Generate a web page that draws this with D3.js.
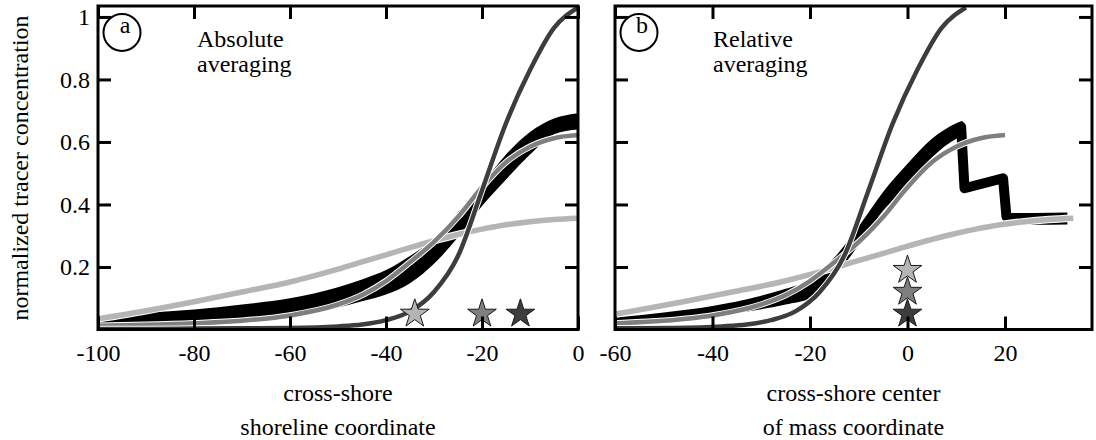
<!DOCTYPE html>
<html>
<head>
<meta charset="utf-8">
<script src="https://cdn.jsdelivr.net/npm/d3@7"></script>
<style>
  body { margin: 0; background: #fff; }
  svg text { font-family: "Liberation Serif", "Times New Roman", serif; fill: #000; }
</style>
</head>
<body>
<svg id="chart" width="1096" height="440"></svg>
<script>
// Cross-shore positions of the profiles (shoreline coordinate, panel a)
const xShore = [-100, -90, -80, -70, -60, -50, -45, -40, -35, -30, -25, -20, -15, -10, -5, 0];
// Profiles drawn in panel a
const lightProfile  = [0.034, 0.06, 0.089, 0.12, 0.152, 0.193, 0.216, 0.239, 0.262, 0.284, 0.304, 0.321, 0.335, 0.345, 0.352, 0.356];
const mediumProfile = [0.012, 0.015, 0.02, 0.028, 0.045, 0.08, 0.11, 0.155, 0.215, 0.28, 0.36, 0.455, 0.535, 0.585, 0.612, 0.622];
const darkProfile   = [0.002, 0.002, 0.003, 0.004, 0.005, 0.01, 0.016, 0.03, 0.058, 0.12, 0.235, 0.445, 0.66, 0.83, 0.965, 1.03];
const blackLowA  = [0.02, 0.024, 0.028, 0.036, 0.045, 0.07, 0.09, 0.112, 0.148, 0.21, 0.295, 0.395, 0.48, 0.56, 0.625, 0.64];
const blackHighA = [0.045, 0.054, 0.064, 0.08, 0.1, 0.135, 0.16, 0.19, 0.235, 0.29, 0.375, 0.465, 0.56, 0.632, 0.675, 0.692];

// Centers of mass of the light, medium and dark profiles (stars)
const centerOfMass = [-34, -20, -12];
const starLevelA = [0.05, 0.05, 0.05];
const starLevelB = [0.19, 0.12, 0.05];

// Black profile in panel b (center of mass coordinate)
const xRelative  = [-60, -50, -40, -30, -25, -20, -15, -10, -5, 0, 5, 10, 11.3];
const blackLowB  = [0.02, 0.03, 0.045, 0.065, 0.08, 0.1, 0.17, 0.27, 0.38, 0.46, 0.55, 0.61, 0.62];
const blackHighB = [0.038, 0.054, 0.075, 0.108, 0.13, 0.16, 0.23, 0.33, 0.44, 0.53, 0.61, 0.66, 0.668];
const blackStepX = [11.0, 11.7, 19.6, 20.3];
const blackStepY = [0.649, 0.452, 0.484, 0.361];
const blackTailX = [20.3, 26, 32.8];
const blackTailLow  = [0.334, 0.335, 0.336];
const blackTailHigh = [0.372, 0.373, 0.374];

// Tick values
const yTicks = [0.2, 0.4, 0.6, 0.8, 1];
const xTicksA = [-100, -80, -60, -40, -20, 0];
const xTicksB = [-60, -40, -20, 0, 20];

const greys = ["#b5b5b5", "#7f7f7f", "#3d3d3d"];
const widths = [5.5, 4.5, 4.5];

const svg = d3.select("#chart");

// Panel geometry
const plotTop = 6, plotBottom = 329.5;
const panelA = { left: 98, right: 578 };
const panelB = { left: 615, right: 1092 };

const y = d3.scaleLinear().domain([0, 1.035]).range([plotBottom, plotTop]);
const xA = d3.scaleLinear().domain([-100, 0]).range([panelA.left, panelA.right]);
const xB = d3.scaleLinear().domain([-60, 37.85]).range([panelB.left, panelB.right]);

// clip paths
const defs = svg.append("defs");
[["clipA", panelA], ["clipB", panelB]].forEach(([id, p]) => {
    defs.append("clipPath").attr("id", id)
        .append("rect")
        .attr("x", p.left).attr("y", plotTop)
        .attr("width", p.right - p.left).attr("height", plotBottom - plotTop);
});

function drawLine(g, x, xs, ys, color, w) {
    const pts = xs.map((v, i) => [v, ys[i]]);
    const line = d3.line().x(d => x(d[0])).y(d => y(d[1])).curve(d3.curveMonotoneX);
    g.append("path").datum(pts)
        .attr("fill", "none").attr("stroke", "#fff").attr("stroke-width", w + 2)
        .attr("d", line);
    g.append("path").datum(pts)
        .attr("fill", "none").attr("stroke", color).attr("stroke-width", w)
        .attr("d", line);
}

function drawBand(g, x, xs, lo, hi) {
    const pts = xs.map((v, i) => [v, lo[i], hi[i]]);
    const area = d3.area().x(d => x(d[0])).y0(d => y(d[1])).y1(d => y(d[2])).curve(d3.curveMonotoneX);
    g.append("path").datum(pts).attr("fill", "#000").attr("d", area);
}

function drawStars(g, xs, ys) {
    const star = d3.symbol().type(d3.symbolStar).size(255);
    g.selectAll(null).data(xs).enter().append("path")
        .attr("transform", (d, i) => `translate(${d},${ys[i]})`)
        .attr("d", star)
        .attr("fill", (d, i) => greys[i])
        .attr("stroke", "#1a1a1a")
        .attr("stroke-width", 1);
}

// ---- Panel a: absolute averaging
const gA = svg.append("g").attr("clip-path", "url(#clipA)");
drawBand(gA, xA, xShore, blackLowA, blackHighA);
drawLine(gA, xA, xShore, lightProfile, greys[0], widths[0]);
drawLine(gA, xA, xShore, mediumProfile, greys[1], widths[1]);
drawLine(gA, xA, xShore, darkProfile, greys[2], widths[2]);
drawStars(svg, centerOfMass.map(xA), starLevelA.map(y));

// ---- Panel b: relative averaging (profiles shifted by their center of mass)
const gB = svg.append("g").attr("clip-path", "url(#clipB)");
drawBand(gB, xB, xRelative, blackLowB, blackHighB);
gB.append("path")
    .datum(blackStepX.map((v, i) => [v, blackStepY[i]]))
    .attr("fill", "none").attr("stroke", "#000").attr("stroke-width", 10)
    .attr("stroke-linejoin", "round").attr("stroke-linecap", "round")
    .attr("d", d3.line().x(d => xB(d[0])).y(d => y(d[1])));
drawBand(gB, xB, blackTailX, blackTailLow, blackTailHigh);
[lightProfile, mediumProfile, darkProfile].forEach((prof, i) => {
    drawLine(gB, xB, xShore.map(v => v - centerOfMass[i]), prof, greys[i], widths[i]);
});
drawStars(svg, centerOfMass.map(() => xB(0)), starLevelB.map(y));

// ---- Axes (ticks pointing inward on all four sides)
function styleAxis(g) {
    g.select(".domain").remove();
    g.selectAll(".tick line").attr("stroke", "#000").attr("stroke-width", 3);
    g.selectAll(".tick text").style("font-size", "24px").attr("fill", "#000");
}

[[panelA, xA, xTicksA, true], [panelB, xB, xTicksB, false]].forEach(([p, x, ticks, labelY]) => {
    svg.append("g").attr("transform", `translate(0,${plotBottom})`)
        .call(d3.axisBottom(x).tickValues(ticks).tickSize(-13).tickPadding(14).tickFormat(d => String(d)))
        .call(styleAxis);
    svg.append("g").attr("transform", `translate(0,${plotTop})`)
        .call(d3.axisTop(x).tickValues(ticks).tickSize(-13).tickFormat(""))
        .call(styleAxis);
    svg.append("g").attr("transform", `translate(${p.left},0)`)
        .call(d3.axisLeft(y).tickValues(yTicks).tickSize(-13).tickPadding(8)
            .tickFormat(labelY ? d => String(d) : ""))
        .call(styleAxis);
    svg.append("g").attr("transform", `translate(${p.right},0)`)
        .call(d3.axisRight(y).tickValues(yTicks).tickSize(-13).tickFormat(""))
        .call(styleAxis);

    // frame
    svg.append("rect")
        .attr("x", p.left).attr("y", plotTop)
        .attr("width", p.right - p.left).attr("height", plotBottom - plotTop)
        .attr("fill", "none").attr("stroke", "#000").attr("stroke-width", 3);
});

// ---- Panel letters and titles
[[panelA, "a", "Absolute"], [panelB, "b", "Relative"]].forEach(([p, letter, word], i) => {
    const cx = p.left + 24;
    svg.append("circle").attr("cx", cx).attr("cy", 32.5).attr("r", 18.5)
        .attr("fill", "#fff").attr("stroke", "#000").attr("stroke-width", 2);
    svg.append("text").attr("x", cx + 3).attr("y", 33)
        .attr("text-anchor", "middle").style("font-size", "24px").text(letter);
    const tx = i === 0 ? 197 : 713;
    svg.append("text").attr("x", tx).attr("y", 47).style("font-size", "24px").text(word);
    svg.append("text").attr("x", tx).attr("y", 72).style("font-size", "24px").text("averaging");
});

// ---- Axis titles
svg.append("text")
    .attr("transform", "translate(28,168) rotate(-90)")
    .attr("text-anchor", "middle").style("font-size", "24px")
    .text("normalized tracer concentration");

[[panelA, "cross-shore", "shoreline coordinate"], [panelB, "cross-shore center", "of mass coordinate"]].forEach(([p, l1, l2]) => {
    const cx = (p.left + p.right) / 2;
    svg.append("text").attr("x", cx).attr("y", 401).attr("text-anchor", "middle").style("font-size", "24px").text(l1);
    svg.append("text").attr("x", cx).attr("y", 435).attr("text-anchor", "middle").style("font-size", "24px").text(l2);
});
</script>
</body>
</html>
